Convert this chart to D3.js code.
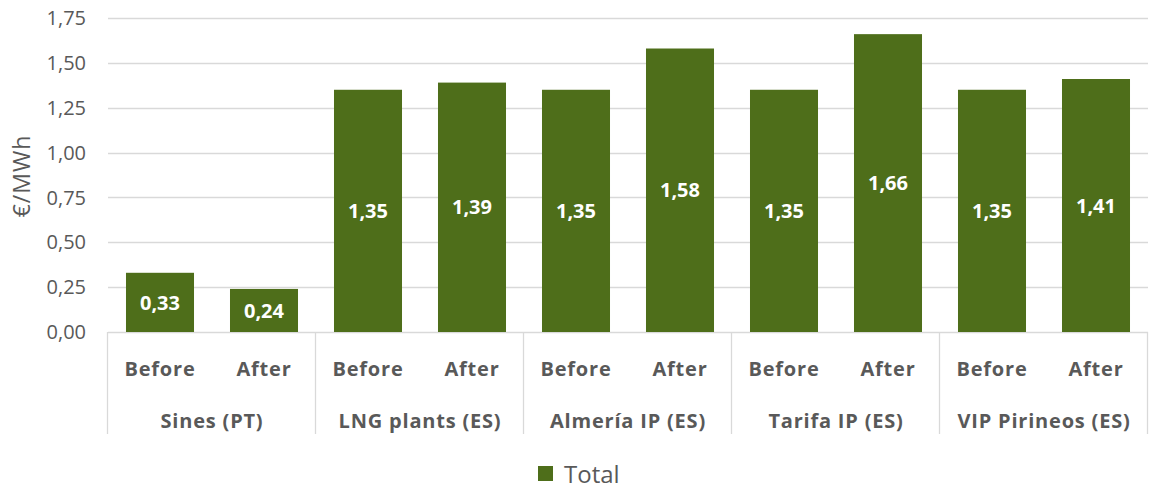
<!DOCTYPE html>
<html>
<head>
<meta charset="utf-8">
<script src="https://cdn.jsdelivr.net/npm/d3@7"></script>
<style>
  body { margin: 0; background: #fff; }
  svg { display: block; font-family: "Open Sans", sans-serif; }
</style>
</head>
<body>
<svg width="1149" height="490"></svg>
<script>
// data
var groups = ["Sines (PT)", "LNG plants (ES)", "Almería IP (ES)", "Tarifa IP (ES)", "VIP Pirineos (ES)"];
var phases = ["Before", "After"];
var totals = [0.33, 0.24, 1.35, 1.39, 1.35, 1.58, 1.35, 1.66, 1.35, 1.41];
var yTicks = [0, 0.25, 0.5, 0.75, 1, 1.25, 1.5, 1.75];
var seriesName = "Total";

var barColor = "#4e6e1a";
var textColor = "#595959";
var gridColor = "#d9d9d9";

var svg = d3.select("svg");

var plotLeft = 108, plotRight = 1148, plotTop = 18, plotBottom = 332;

var bars = [];
groups.forEach(function (g, gi) {
    phases.forEach(function (p, pi) {
        bars.push({ key: gi + "-" + p, group: g, phase: p, value: totals[gi * 2 + pi] });
    });
});

var x = d3.scaleBand()
    .domain(bars.map(function (d) { return d.key; }))
    .range([plotLeft, plotRight])
    .paddingInner(0.346)
    .paddingOuter(0.173);

var y = d3.scaleLinear().domain([0, 1.75]).range([plotBottom, plotTop]);

// gridlines
svg.append("g")
    .selectAll("line")
    .data(yTicks)
    .join("line")
    .attr("x1", plotLeft)
    .attr("x2", plotRight)
    .attr("y1", function (d) { return Math.round(y(d)) + 0.5; })
    .attr("y2", function (d) { return Math.round(y(d)) + 0.5; })
    .attr("stroke", gridColor)
    .attr("stroke-width", 1.3);

// y axis labels
var fmt = function (d) { return d3.format(".2f")(d).replace(".", ","); };
svg.append("g")
    .selectAll("text")
    .data(yTicks)
    .join("text")
    .attr("x", 86)
    .attr("y", function (d) { return y(d); })
    .attr("dy", "0.36em")
    .attr("text-anchor", "end")
    .attr("fill", textColor)
    .style("font-size", "20px")
    .text(fmt);

svg.append("text")
    .attr("transform", "translate(30,176) rotate(-90)")
    .attr("text-anchor", "middle")
    .attr("fill", textColor)
    .style("font-size", "23px")
    .style("letter-spacing", "1px")
    .text("€/MWh");

// bars
svg.append("g")
    .selectAll("rect")
    .data(bars)
    .join("rect")
    .attr("x", function (d) { return x(d.key); })
    .attr("width", x.bandwidth())
    .attr("y", function (d) { return y(d.value); })
    .attr("height", function (d) { return y(0) - y(d.value); })
    .attr("fill", barColor);

// value labels
svg.append("g")
    .selectAll("text")
    .data(bars)
    .join("text")
    .attr("x", function (d) { return x(d.key) + x.bandwidth() / 2; })
    .attr("y", function (d) { return (y(d.value) + y(0)) / 2; })
    .attr("dy", "0.36em")
    .attr("text-anchor", "middle")
    .attr("fill", "#fff")
    .style("font-size", "20px")
    .style("font-weight", "bold")
    .text(function (d) { return fmt(d.value); });

// category axis: separators
var step = x.step();
var groupEdges = d3.range(groups.length + 1).map(function (i) {
    return i === groups.length ? plotRight : x(i + "-Before") - x.paddingOuter() * step;
});
svg.append("g")
    .selectAll("line")
    .data(groupEdges)
    .join("line")
    .attr("x1", function (d) { return Math.round(d) - 0.5; })
    .attr("x2", function (d) { return Math.round(d) - 0.5; })
    .attr("y1", plotBottom)
    .attr("y2", 434)
    .attr("stroke", gridColor)
    .attr("stroke-width", 1.3);

svg.append("g")
    .selectAll("text")
    .data(bars)
    .join("text")
    .attr("x", function (d) { return x(d.key) + x.bandwidth() / 2; })
    .attr("y", 369)
    .attr("dy", "0.36em")
    .attr("text-anchor", "middle")
    .attr("fill", textColor)
    .style("font-size", "20px")
    .style("font-weight", "bold")
    .style("letter-spacing", "0.8px")
    .text(function (d) { return d.phase; });

svg.append("g")
    .selectAll("text")
    .data(groups)
    .join("text")
    .attr("x", function (d, i) { return (groupEdges[i] + groupEdges[i + 1]) / 2; })
    .attr("y", 421)
    .attr("dy", "0.36em")
    .attr("text-anchor", "middle")
    .attr("fill", textColor)
    .style("font-size", "20px")
    .style("font-weight", "bold")
    .style("letter-spacing", "0.8px")
    .text(function (d) { return d; });

// legend
var legend = svg.append("g").attr("transform", "translate(538,466)");
legend.append("rect").attr("width", 15).attr("height", 15).attr("fill", barColor);
legend.append("text")
    .attr("x", 26)
    .attr("y", 8)
    .attr("dy", "0.36em")
    .attr("fill", textColor)
    .style("font-size", "24px")
    .text(seriesName);
</script>
</body>
</html>
